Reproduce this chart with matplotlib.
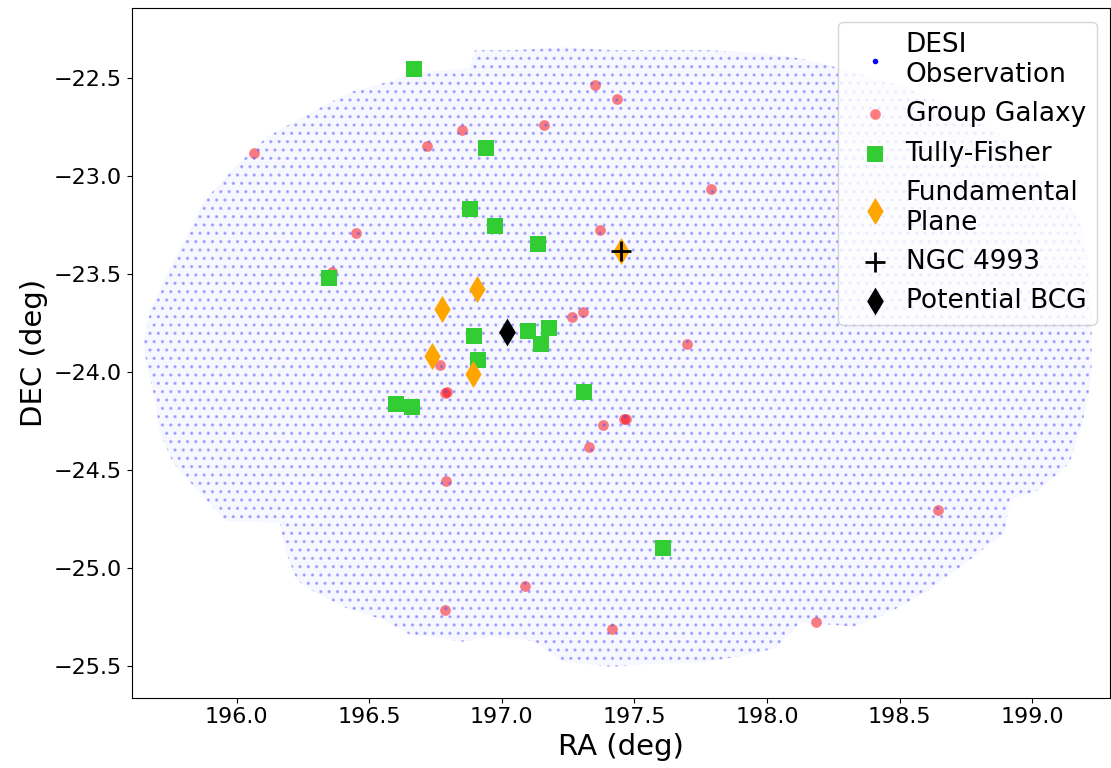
import matplotlib
matplotlib.use("Agg")
import matplotlib.pyplot as plt
from matplotlib.patches import Polygon
from matplotlib.lines import Line2D

plt.rcParams['font.family'] = ['DejaVu Sans']
plt.rcParams['hatch.linewidth'] = 1.2

# DESI footprint outline (RA, Dec)
footprint_ra = [195.647, 195.673, 195.738, 195.824, 195.873, 196.001, 196.114, 196.276,
                196.427, 196.566, 196.691, 196.793, 196.879, 196.898, 197.041, 197.230,
                197.418, 197.558, 197.784, 197.972, 198.123, 198.274, 198.500, 198.726,
                198.915, 199.066, 199.179, 199.209, 199.224, 199.224, 199.216, 199.190,
                199.141, 199.028, 198.915, 198.896, 198.813, 198.726, 198.614, 198.500,
                198.425, 198.323, 198.248, 198.123, 198.036, 197.935, 197.746, 197.558,
                197.414, 197.230, 197.132, 197.094, 196.955, 196.853, 196.729, 196.654,
                196.551, 196.401, 196.265, 196.227, 196.182, 196.163, 196.088, 195.963,
                195.850, 195.760, 195.711, 195.692, 195.666]
footprint_dec = [-23.862, -23.694, -23.495, -23.276, -23.134, -22.945, -22.802, -22.680,
                 -22.573, -22.522, -22.471, -22.461, -22.451, -22.359, -22.359, -22.344,
                 -22.359, -22.359, -22.359, -22.374, -22.400, -22.451, -22.537, -22.665,
                 -22.818, -23.021, -23.225, -23.429, -23.735, -23.964, -24.092, -24.255,
                 -24.464, -24.601, -24.652, -24.821, -24.907, -24.999, -25.111, -25.198,
                 -25.249, -25.300, -25.290, -25.279, -25.407, -25.443, -25.484, -25.489,
                 -25.504, -25.478, -25.381, -25.366, -25.351, -25.376, -25.351, -25.341,
                 -25.264, -25.198, -25.101, -25.060, -24.907, -24.770, -24.765, -24.765,
                 -24.601, -24.464, -24.311, -24.143, -23.990]

group_ra = [196.065, 196.717, 196.850, 197.159, 197.353, 197.435, 197.789, 196.449,
            197.372, 196.358, 197.266, 197.306, 197.700, 196.765, 196.785, 196.795,
            197.382, 197.467, 197.460, 197.329, 196.790, 198.643, 197.087, 196.786,
            197.417, 198.184]
group_dec = [-22.882, -22.847, -22.767, -22.740, -22.534, -22.609, -23.066, -23.293,
             -23.275, -23.490, -23.718, -23.696, -23.859, -23.964, -24.109, -24.102,
             -24.269, -24.240, -24.242, -24.383, -24.557, -24.703, -25.094, -25.217,
             -25.311, -25.274]

tf_ra = [196.668, 196.939, 196.881, 196.974, 197.137, 196.349, 196.894, 197.100,
         197.179, 197.148, 196.910, 196.600, 196.660, 197.309, 197.607]
tf_dec = [-22.457, -22.858, -23.171, -23.256, -23.349, -23.522, -23.817, -23.792,
          -23.776, -23.860, -23.939, -24.163, -24.177, -24.104, -24.896]

fp_ra = [197.451, 196.908, 196.776, 196.737, 196.892]
fp_dec = [-23.383, -23.578, -23.677, -23.921, -24.010]

ngc_ra = [197.448]
ngc_dec = [-23.384]

bcg_ra = [197.020]
bcg_dec = [-23.797]

fig = plt.figure(figsize=(11.11, 7.68), dpi=100)
ax = fig.add_axes([0.1185, 0.0915, 0.8805, 0.8975])

# DESI observations: stippled footprint
poly = Polygon(list(zip(footprint_ra, footprint_dec)), closed=True,
               facecolor=(0.0, 0.0, 1.0, 0.03), edgecolor=(0.3, 0.3, 1.0, 0.38),
               linewidth=0, hatch='..', zorder=2)
ax.add_patch(poly)

ax.scatter(group_ra, group_dec, s=60, color='red', alpha=0.5, linewidths=0,
           zorder=1.5, label='Group Galaxy')
ax.scatter(tf_ra, tf_dec, s=144, marker='s', color='limegreen', linewidths=0,
           zorder=3, label='Tully-Fisher')
ax.scatter(fp_ra, fp_dec, s=190, marker='d', color='orange', linewidths=0,
           zorder=4, label='Fundamental\nPlane')
ax.scatter(ngc_ra, ngc_dec, s=190, marker='+', color='black', linewidths=2,
           zorder=5, label='NGC 4993')
ax.scatter(bcg_ra, bcg_dec, s=200, marker='d', color='black', linewidths=0,
           zorder=5, label='Potential BCG')

ax.set_xlim(195.604, 199.293)
ax.set_ylim(-25.662, -22.146)
ax.set_xlabel('RA (deg)', fontsize=21)
ax.set_ylabel('DEC (deg)', fontsize=21)
ax.tick_params(labelsize=16)
ax.set_yticks([-22.5, -23.0, -23.5, -24.0, -24.5, -25.0, -25.5])
ax.set_xticks([196.0, 196.5, 197.0, 197.5, 198.0, 198.5, 199.0])

desi_handle = Line2D([], [], linestyle='none', marker='o', markersize=4,
                     color='blue', markeredgewidth=0)
handles, labels = ax.get_legend_handles_labels()
ax.legend([desi_handle] + handles, ['DESI\nObservation'] + labels,
          loc='upper right', fontsize=19, handletextpad=0.15,
          labelspacing=0.5, borderpad=0.4)

fig.savefig('out.png', dpi=100)
